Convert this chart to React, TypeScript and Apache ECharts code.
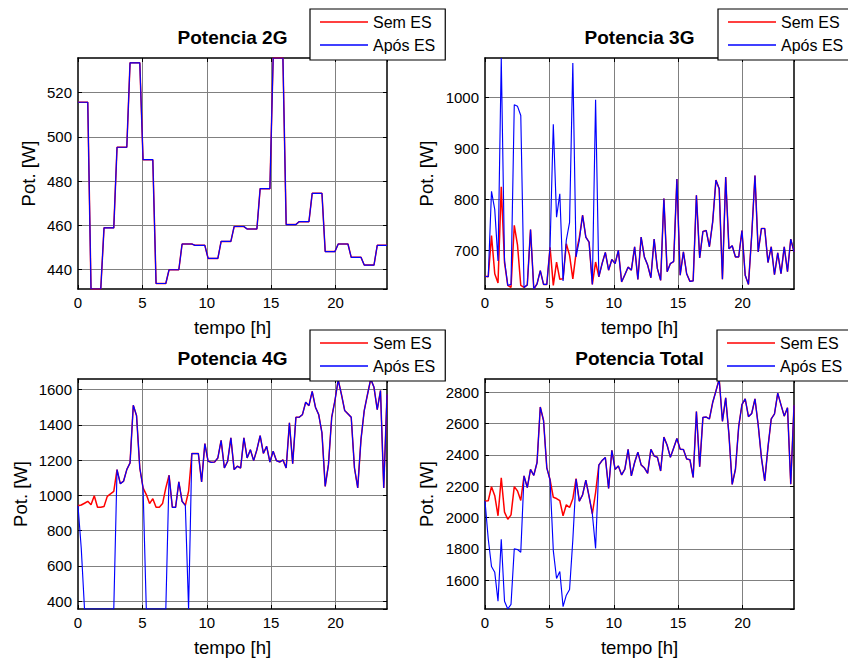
import React, { useEffect, useRef } from "react";
import * as echarts from "echarts";

// Sampling instants over the day: 96 samples spread from 0 h to 24 h
const HOURS: number[] = Array.from({ length: 96 }, (_, i) => (i * 24) / 95);

// 2G power is the same with and without the strategy
const POT_2G = [
  515.6, 515.6, 515.6, 515.6, 431.3, 431.3, 431.3, 431.3, 458.9, 458.9, 458.9, 458.9,
  495.3, 495.3, 495.3, 495.3, 533.4, 533.4, 533.4, 533.4, 489.7, 489.7, 489.7, 489.7,
  433.8, 433.8, 433.8, 433.8, 440.0, 440.0, 440.0, 440.0, 451.6, 451.6, 451.6, 451.6,
  451.0, 451.0, 451.0, 451.0, 445.1, 445.1, 445.1, 445.1, 452.8, 452.8, 452.8, 452.8,
  459.5, 459.5, 459.5, 459.5, 458.4, 458.4, 458.4, 458.4, 476.6, 476.6, 476.6, 476.6,
  535.6, 535.6, 535.6, 535.6, 460.4, 460.4, 460.4, 460.4, 461.7, 461.7, 461.7, 461.7,
  474.5, 474.5, 474.5, 474.5, 448.2, 448.2, 448.2, 448.2, 451.6, 451.6, 451.6, 451.6,
  445.6, 445.6, 445.6, 445.6, 442.1, 442.1, 442.1, 442.1, 451.0, 451.0, 451.0, 451.0,
];

const POT_3G_SEM_ES = [
  649, 648, 729, 654, 636, 825, 676, 631, 627, 749, 710, 631,
  627, 632, 741, 624, 634, 660, 633, 633, 706, 631, 677, 643,
  644, 713, 690, 644, 695, 725, 769, 726, 716, 633, 677, 648,
  674, 696, 661, 682, 674, 700, 638, 652, 667, 661, 707, 643,
  726, 687, 671, 646, 722, 664, 641, 802, 658, 674, 678, 840,
  651, 697, 654, 639, 640, 808, 685, 737, 739, 707, 756, 838,
  821, 643, 844, 703, 709, 687, 687, 739, 651, 633, 730, 847,
  697, 743, 743, 676, 707, 652, 695, 654, 707, 658, 722, 697,
];

const POT_3G_APOS_ES = [
  649, 648, 816, 780, 679, 1078, 680, 631, 633, 986, 983, 965,
  627, 632, 741, 624, 634, 660, 633, 633, 706, 948, 765, 811,
  640, 720, 755, 1068, 687, 720, 769, 726, 716, 633, 996, 648,
  674, 696, 661, 682, 674, 700, 638, 652, 667, 661, 707, 643,
  726, 687, 671, 646, 722, 664, 641, 802, 658, 674, 678, 840,
  651, 697, 654, 639, 640, 808, 685, 737, 739, 707, 756, 838,
  821, 643, 844, 703, 709, 687, 687, 739, 651, 633, 730, 847,
  697, 743, 743, 676, 707, 652, 695, 654, 707, 658, 722, 697,
];

const POT_4G_SEM_ES = [
  941, 945, 955, 966, 947, 998, 932, 932, 936, 994, 1008, 1022,
  1146, 1066, 1080, 1146, 1184, 1511, 1452, 1155, 1042, 1004, 953, 981,
  932, 932, 953, 1042, 1114, 932, 932, 1076, 966, 943, 1023, 1237,
  1237, 1237, 1076, 1293, 1193, 1187, 1189, 1212, 1312, 1155, 1193, 1326,
  1146, 1165, 1155, 1326, 1212, 1259, 1197, 1259, 1339, 1238, 1278, 1189,
  1250, 1197, 1189, 1201, 1155, 1411, 1180, 1443, 1443, 1458, 1528, 1509,
  1590, 1500, 1458, 1354, 1051, 1174, 1443, 1538, 1655, 1572, 1481, 1462,
  1443, 1155, 1042, 1316, 1481, 1572, 1660, 1613, 1486, 1594, 1042, 1572,
];

const POT_4G_APOS_ES = [
  941, 700, 355, 355, 355, 355, 355, 355, 355, 355, 355, 355,
  1146, 1066, 1080, 1146, 1184, 1511, 1452, 1155, 1042, 355, 355, 355,
  355, 355, 355, 355, 1114, 932, 932, 1076, 966, 943, 355, 1237,
  1237, 1237, 1076, 1293, 1193, 1187, 1189, 1212, 1312, 1155, 1193, 1326,
  1146, 1165, 1155, 1326, 1212, 1259, 1197, 1259, 1339, 1238, 1278, 1189,
  1250, 1197, 1189, 1201, 1155, 1411, 1180, 1443, 1443, 1458, 1528, 1509,
  1590, 1500, 1458, 1354, 1051, 1174, 1443, 1538, 1655, 1572, 1481, 1462,
  1443, 1155, 1042, 1316, 1481, 1572, 1660, 1613, 1486, 1594, 1042, 1572,
];

const POT_TOTAL_SEM_ES = [
  2106, 2108, 2198, 2140, 2012, 2255, 2035, 1990, 2018, 2198, 2170, 2110,
  2267, 2192, 2308, 2270, 2352, 2706, 2620, 2318, 2242, 2130, 2122, 2108,
  2012, 2082, 2065, 2120, 2249, 2105, 2145, 2240, 2135, 2025, 2160, 2335,
  2365, 2384, 2186, 2430, 2308, 2330, 2273, 2309, 2436, 2267, 2352, 2418,
  2337, 2318, 2283, 2436, 2394, 2386, 2298, 2514, 2462, 2385, 2445, 2505,
  2437, 2435, 2375, 2370, 2257, 2678, 2325, 2640, 2642, 2630, 2735, 2808,
  2885, 2615, 2765, 2530, 2212, 2309, 2582, 2722, 2758, 2645, 2665, 2758,
  2590, 2380, 2234, 2450, 2630, 2662, 2795, 2720, 2648, 2702, 2214, 2717,
];

const POT_TOTAL_APOS_ES = [
  2106, 1864, 1688, 1651, 1467, 1862, 1466, 1417, 1447, 1801, 1797, 1779,
  2267, 2192, 2308, 2270, 2352, 2706, 2620, 2318, 2242, 1790, 1612, 1656,
  1432, 1505, 1542, 1857, 2246, 2105, 2145, 2240, 2135, 2025, 1803, 2335,
  2365, 2384, 2186, 2430, 2308, 2330, 2273, 2309, 2436, 2267, 2352, 2418,
  2337, 2318, 2283, 2436, 2394, 2386, 2298, 2514, 2462, 2385, 2445, 2505,
  2437, 2435, 2375, 2370, 2257, 2678, 2325, 2640, 2642, 2630, 2735, 2808,
  2885, 2615, 2765, 2530, 2212, 2309, 2582, 2722, 2758, 2645, 2665, 2758,
  2590, 2380, 2234, 2450, 2630, 2662, 2795, 2720, 2648, 2702, 2214, 2717,
];

const TITLES = ["Potencia 2G", "Potencia 3G", "Potencia 4G", "Potencia Total"];
const SERIES_NAMES = ["Sem ES", "Após ES"];
const X_TICK_STEP = 5;
const Y_TICK_STEPS = [20, 100, 200, 200];

const FONT = '"Liberation Sans", Arial, Helvetica, sans-serif';
const RED = "#ff0000";
const BLUE = "#0000ff";

// Subplot placement (pixels)
const PLOT_W = 309;
const LAYOUT = [
  { left: 78, top: 58, height: 231, yNameGap: 40, legendLeft: 310, legendTop: 9, titleY: 37.6 },
  { left: 485, top: 58, height: 231, yNameGap: 49, legendLeft: 718, legendTop: 9, titleY: 37.6 },
  { left: 78, top: 379, height: 230, yNameGap: 48, legendLeft: 310, legendTop: 330, titleY: 358.6 },
  { left: 485, top: 379, height: 230, yNameGap: 49, legendLeft: 717, legendTop: 330, titleY: 358.6 },
];

const PANEL_DATA = [
  [POT_2G, POT_2G],
  [POT_3G_SEM_ES, POT_3G_APOS_ES],
  [POT_4G_SEM_ES, POT_4G_APOS_ES],
  [POT_TOTAL_SEM_ES, POT_TOTAL_APOS_ES],
];

function buildOption() {
  const grid: any[] = [];
  const xAxis: any[] = [];
  const yAxis: any[] = [];
  const series: any[] = [];
  const legend: any[] = [];
  const graphic: any[] = [];

  const tickStyle = { inside: true, length: 4, lineStyle: { color: "#000", width: 1 } };
  const lineStyle = { show: true, onZero: false, lineStyle: { color: "#000", width: 1.5 } };
  const gridLine = {
    show: true,
    showMinLine: false,
    showMaxLine: false,
    lineStyle: { color: "#808080", width: 1 },
  };
  const labelStyle = { color: "#000", fontSize: 15, fontFamily: FONT };
  const nameStyle = { color: "#000", fontSize: 18.5, fontFamily: FONT };

  PANEL_DATA.forEach(([sem, apos], k) => {
    const L = LAYOUT[k];
    const all = sem.concat(apos);
    const lo = Math.min(...all);
    const hi = Math.max(...all);
    const step = Y_TICK_STEPS[k];

    grid.push({ left: L.left, top: L.top, width: PLOT_W, height: L.height });

    // bottom (labelled) and top (ticks only) time axes
    xAxis.push({
      type: "value",
      gridIndex: k,
      position: "bottom",
      min: 0,
      max: 24,
      interval: X_TICK_STEP,
      name: "tempo [h]",
      nameLocation: "middle",
      nameGap: 29,
      nameTextStyle: nameStyle,
      axisLine: lineStyle,
      axisTick: tickStyle,
      axisLabel: { ...labelStyle, margin: 6, showMinLabel: true, showMaxLabel: false },
      splitLine: gridLine,
    });
    xAxis.push({
      type: "value",
      gridIndex: k,
      position: "top",
      min: 0,
      max: 24,
      interval: X_TICK_STEP,
      axisLine: lineStyle,
      axisTick: tickStyle,
      axisLabel: { show: false },
      splitLine: { show: false },
    });

    // left (labelled) and right (ticks only) power axes, tight to the data
    yAxis.push({
      type: "value",
      gridIndex: k,
      position: "left",
      min: lo,
      max: hi,
      minInterval: step,
      maxInterval: step,
      splitNumber: 6,
      name: "Pot. [W]",
      nameLocation: "middle",
      nameGap: L.yNameGap,
      nameRotate: 90,
      nameTextStyle: nameStyle,
      axisLine: lineStyle,
      axisTick: tickStyle,
      axisLabel: {
        ...labelStyle,
        margin: 6,
        showMinLabel: false,
        showMaxLabel: false,
        formatter: (v: number) => String(Math.round(v)),
      },
      splitLine: gridLine,
    });
    yAxis.push({
      type: "value",
      gridIndex: k,
      position: "right",
      min: lo,
      max: hi,
      minInterval: step,
      maxInterval: step,
      splitNumber: 6,
      axisLine: lineStyle,
      axisTick: tickStyle,
      axisLabel: { show: false },
      splitLine: { show: false },
    });

    series.push({
      type: "line",
      name: SERIES_NAMES[0],
      xAxisIndex: 2 * k,
      yAxisIndex: 2 * k,
      data: HOURS.map((t, i) => [t, sem[i]]),
      symbol: "none",
      lineStyle: { color: RED, width: 1.5 },
      itemStyle: { color: RED },
      z: 2,
    });
    series.push({
      type: "line",
      name: SERIES_NAMES[1],
      xAxisIndex: 2 * k,
      yAxisIndex: 2 * k,
      data: HOURS.map((t, i) => [t, apos[i]]),
      symbol: "none",
      lineStyle: { color: BLUE, width: 1.15 },
      itemStyle: { color: BLUE },
      z: 3,
    });

    legend.push({
      data: SERIES_NAMES,
      left: L.legendLeft,
      top: L.legendTop,
      orient: "vertical",
      icon: "rect",
      itemWidth: 48,
      itemHeight: 1.4,
      itemGap: 7,
      padding: [5, 10, 7, 10],
      borderColor: "#000",
      borderWidth: 1.2,
      borderRadius: 0,
      backgroundColor: "#ffffff",
      selectedMode: false,
      textStyle: { color: "#000", fontSize: 16, fontFamily: FONT },
      z: 10,
    });

    graphic.push({
      type: "text",
      x: L.left + PLOT_W / 2,
      y: L.titleY,
      z: 20,
      style: {
        text: TITLES[k],
        fill: "#000",
        fontSize: 19,
        fontWeight: "bold",
        fontFamily: FONT,
        textAlign: "center",
        textVerticalAlign: "middle",
        align: "center",
        verticalAlign: "middle",
      },
    });
  });

  return {
    animation: false,
    backgroundColor: "#ffffff",
    grid,
    xAxis,
    yAxis,
    series,
    legend,
    graphic,
  };
}

export default function App() {
  const ref = useRef<HTMLDivElement>(null);

  useEffect(() => {
    if (!ref.current) return;
    const chart = echarts.init(ref.current, undefined, { renderer: "svg" });
    chart.setOption(buildOption());
    return () => chart.dispose();
  }, []);

  return (
    <div
      ref={ref}
      style={{ position: "fixed", left: 0, top: 0, width: 848, height: 662, background: "#fff" }}
    />
  );
}
